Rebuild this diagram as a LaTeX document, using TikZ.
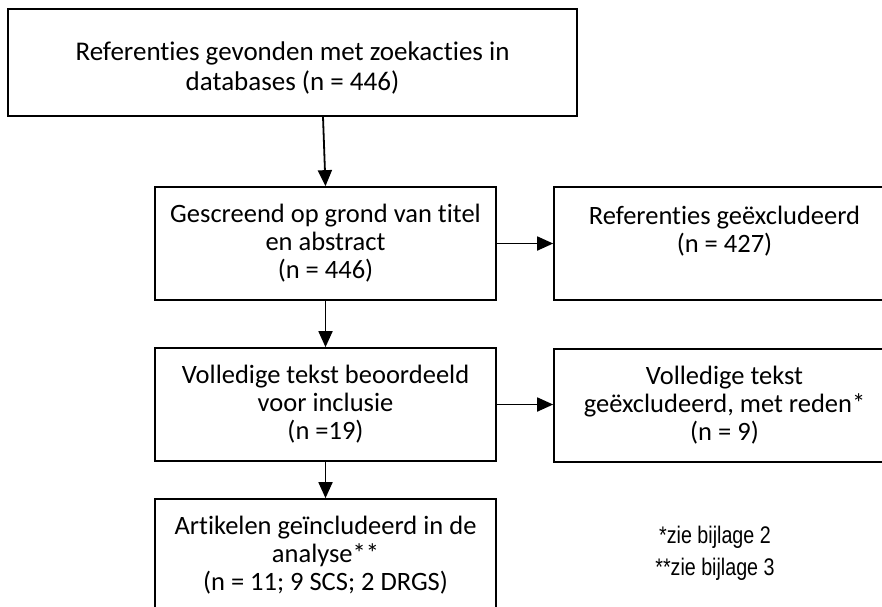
\documentclass[tikz,border=0pt]{standalone}
\usepackage{fontspec}
\setmainfont{Carlito}[Ligatures=NoCommon]
\newfontfamily\notefont[FakeStretch=0.82]{Liberation Sans}
\usetikzlibrary{arrows.meta}
\begin{document}
\begin{tikzpicture}[x=1pt,y=-1pt,
  flowbox/.style={draw=black,line width=1.7pt,minimum width=341pt,minimum height=113pt,
    inner sep=0pt,align=center,font=\fontsize{26.5}{28}\selectfont},
  flowarrow/.style={line width=1.8pt,-{Triangle[length=16pt,width=14pt]}},
  notetext/.style={align=center,font=\notefont\fontsize{24}{32}\selectfont}]
\useasboundingbox (0,0) rectangle (882,606);
\clip (0,0) rectangle (882,606);
\node[draw=black,line width=1.7pt,minimum width=569pt,minimum height=107pt,inner sep=0pt] (top) at (292.5,62.5) {};
\node[align=center,inner sep=0pt,font=\fontsize{27}{30}\selectfont] (toptext) at (292.5,68)
  {Referenties gevonden met zoekacties in\\databases (n = 446)};
\node[flowbox] (scr) at (325.5,243.5) {Gescreend op grond van titel\\en abstract\\(n = 446)};
\node[flowbox] (exc1) at (724.5,243.5) {Referenties geëxcludeerd\\(n = 427)\\ };
\node[flowbox] (full) at (325.5,404.5) {Volledige tekst beoordeeld\\voor inclusie\\(n =19)};
\node[flowbox] (exc2) at (724.5,405.5) {Volledige tekst\\geëxcludeerd, met reden*\\(n = 9)};
\node[flowbox] (incl) at (325.5,555.5) {Artikelen geïncludeerd in de\\analyse**\\(n = 11; 9 SCS; 2 DRGS)};
\node[notetext] (notes) at (715,553) {*zie bijlage 2\\**zie bijlage 3};
\draw[flowarrow] (top.south -| 323,0) -- (scr.north);
\draw[flowarrow] (scr.south) -- (full.north);
\draw[flowarrow] (full.south) -- (incl.north);
\draw[flowarrow] (scr.east) -- (exc1.west);
\draw[flowarrow] (full.east) -- (full.east -| exc2.west);
\end{tikzpicture}
\end{document}
